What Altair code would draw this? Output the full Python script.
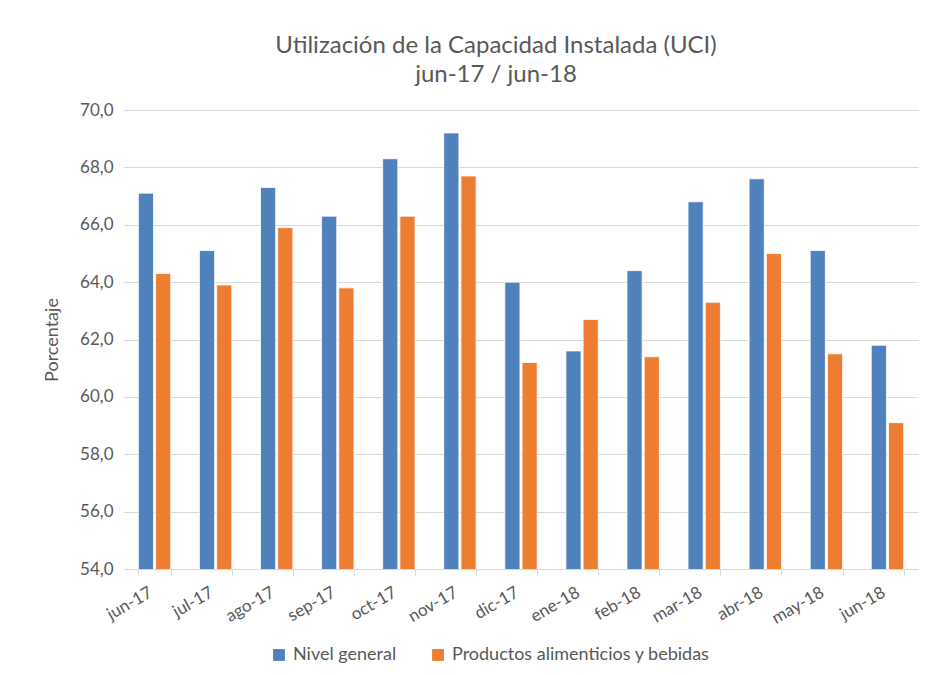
import altair as alt
import pandas as pd

months = ["jun-17", "jul-17", "ago-17", "sep-17", "oct-17", "nov-17", "dic-17",
          "ene-18", "feb-18", "mar-18", "abr-18", "may-18", "jun-18"]
nivel_general = [67.1, 65.1, 67.3, 66.3, 68.3, 69.2, 64.0, 61.6, 64.4, 66.8, 67.6, 65.1, 61.8]
alimentos = [64.3, 63.9, 65.9, 63.8, 66.3, 67.7, 61.2, 62.7, 61.4, 63.3, 65.0, 61.5, 59.1]
series = ["Nivel general", "Productos alimenticios y bebidas"]
y_ticks = [54, 56, 58, 60, 62, 64, 66, 68, 70]

rows = []
for m, a, b in zip(months, nivel_general, alimentos):
    rows.append({"mes": m, "serie": series[0], "valor": a})
    rows.append({"mes": m, "serie": series[1], "valor": b})
df = pd.DataFrame(rows)

FONT = "Lato"
GREY = "#595959"

chart = alt.Chart(df).mark_bar(stroke="white", strokeWidth=0.8, clip=True).encode(
    x=alt.X("mes:N", sort=months, title=None,
            scale=alt.Scale(paddingInner=0.47, paddingOuter=0.235),
            axis=alt.Axis(labelAngle=-30, labelAlign="right", labelBaseline="top",
                          labelFontSize=17, labelColor=GREY, labelFont=FONT,
                          labelPadding=9, labelOffset=-8, tickBand="extent",
                          tickColor="#d9d9d9", tickSize=6, domainColor="#d9d9d9", grid=False)),
    xOffset=alt.XOffset("serie:N", sort=series, scale=alt.Scale(paddingInner=0.12)),
    y=alt.Y("valor:Q", title="Porcentaje",
            scale=alt.Scale(domain=[54, 70], nice=False, zero=False),
            axis=alt.Axis(values=y_ticks, labelExpr="replace(format(datum.value, '.1f'), '.', ',')",
                          labelFontSize=17, labelColor=GREY, labelFont=FONT, labelPadding=11,
                          ticks=False, domain=False, gridColor="#d9d9d9",
                          titleFontSize=18, titleColor=GREY, titleFont=FONT,
                          titleFontWeight="normal", titlePadding=18)),
    color=alt.Color("serie:N", sort=series,
                    scale=alt.Scale(domain=series, range=["#4F81BD", "#ED7D31"]),
                    legend=alt.Legend(title=None, orient="none", direction="horizontal",
                                      legendX=146, legendY=536, symbolType="square",
                                      symbolSize=140, symbolStrokeWidth=0,
                                      labelFontSize=18, labelColor=GREY, labelFont=FONT,
                                      labelLimit=0, labelOffset=5, columnPadding=32)),
).properties(
    width=794, height=459,
    autosize=alt.AutoSizeParams(type="none"),
    padding={"left": 116, "top": 102, "right": 16, "bottom": 96},
    title=alt.TitleParams(["Utilización de la Capacidad Instalada (UCI)", "jun-17 / jun-18"],
                          fontSize=24, font=FONT, color=GREY, fontWeight="normal",
                          anchor="middle", dx=-25, offset=14, lineHeight=29),
).configure_view(stroke=None)

chart.save("out.html", embed_options={"renderer": "svg", "actions": False})
